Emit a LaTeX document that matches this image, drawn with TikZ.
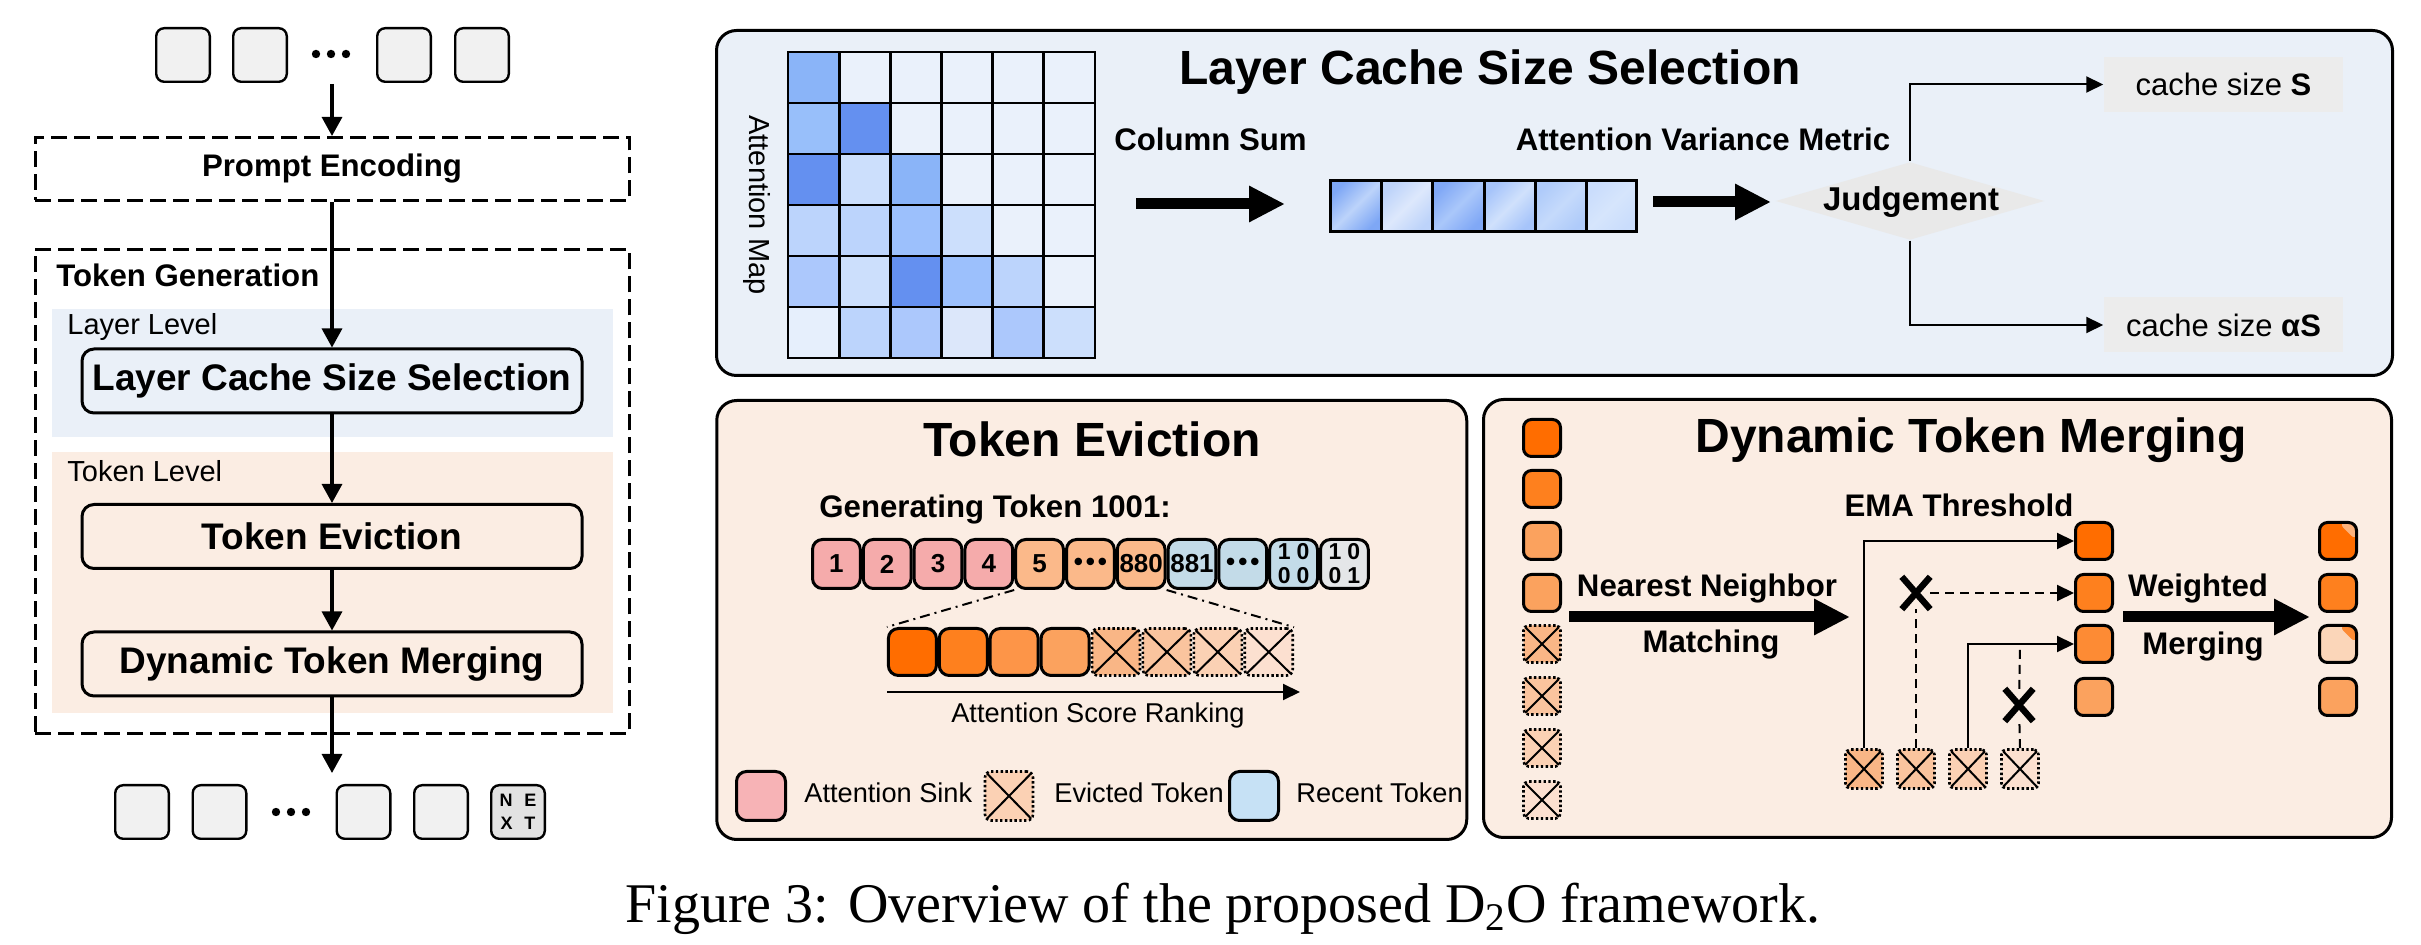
\documentclass[tikz,border=0pt]{standalone}
\usepackage{fontspec}
\setmainfont{Liberation Sans}
\newfontfamily\capfont{Liberation Serif}
\usetikzlibrary{arrows.meta,shapes.geometric,shapes.misc}

\definecolor{tokgray}{HTML}{F1F1F1}
\definecolor{nextgray}{HTML}{E2E2E2}
\definecolor{bluebg}{HTML}{EAF0F8}
\definecolor{peachbg}{HTML}{FBEDE3}
\definecolor{judgegray}{HTML}{E9E9E9}
\definecolor{boxgray}{HTML}{ECECEC}
\definecolor{amlight}{HTML}{EAF1FB}
\definecolor{amA}{HTML}{8AB4F8}
\definecolor{amB}{HTML}{98BFFA}
\definecolor{amC}{HTML}{6490F0}
\definecolor{amD}{HTML}{CCDFFC}
\definecolor{amE}{HTML}{BCD4FC}
\definecolor{amF}{HTML}{9CC0FC}
\definecolor{amG}{HTML}{ACC8FC}
\definecolor{amH}{HTML}{E6EFFC}
\definecolor{amI}{HTML}{DCE7FA}
\definecolor{vcA}{HTML}{7EA7F5}
\definecolor{vsA}{HTML}{BCD3FA}
\definecolor{vcB}{HTML}{BDD3FA}
\definecolor{vsB}{HTML}{DDE8FC}
\definecolor{vcC}{HTML}{80A8F6}
\definecolor{vsC}{HTML}{AAC7FA}
\definecolor{vcD}{HTML}{A6C4FA}
\definecolor{vsD}{HTML}{D0E1FC}
\definecolor{vcE}{HTML}{AFCBFA}
\definecolor{vsE}{HTML}{C5DAFB}
\definecolor{vcF}{HTML}{CADDFC}
\definecolor{vsF}{HTML}{D6E5FC}
\definecolor{sinkpink}{HTML}{F5ABAB}
\definecolor{legpink}{HTML}{F7B3B6}
\definecolor{midorange}{HTML}{FBB98A}
\definecolor{recentblue}{HTML}{C3DBE8}
\definecolor{legblue}{HTML}{C6E1F5}
\definecolor{lastgray}{HTML}{E4E6E8}
\definecolor{orA}{HTML}{FF6D00}
\definecolor{orB}{HTML}{FE801E}
\definecolor{orC}{HTML}{FD9548}
\definecolor{orK}{HTML}{FD8B34}
\definecolor{orD}{HTML}{FBA25E}
\definecolor{evA}{HTML}{F9B686}
\definecolor{evB}{HTML}{FAC49E}
\definecolor{evC}{HTML}{FBD1B4}
\definecolor{evD}{HTML}{FCE0D0}
\definecolor{tipA}{HTML}{FCB27C}
\definecolor{mergeC}{HTML}{FBD6B9}

\tikzset{every picture/.style={line width=0.75pt}}
\tikzset{
  tok/.style={draw, line width=1.2pt, rounded corners=4pt, fill=tokgray, minimum width=26.8pt, minimum height=26.8pt, inner sep=0},
  dashbox/.style={draw, line width=1.5pt, dash pattern=on 8pt off 3.5pt, inner sep=0},
  stage/.style={draw, line width=1.5pt, rounded corners=6pt, minimum width=250pt, minimum height=32pt, inner sep=0, font=\bfseries\fontsize{18.5}{22}\selectfont},
  lbl/.style={font=\bfseries\fontsize{15.6}{19}\selectfont},
  lvl/.style={font=\fontsize{14.5}{17}\selectfont},
  note/.style={font=\fontsize{13.6}{16}\selectfont},
  ttl/.style={font=\bfseries\fontsize{24}{28}\selectfont},
  flow/.style={line width=1.6pt, -{Triangle[length=9.5pt,width=10pt]}},
  thinarrow/.style={line width=1pt, -{Triangle[length=8.5pt,width=8pt]}},
  bigarrow/.style={line width=5.5pt, -{Triangle[length=18pt,width=17pt]}},
  panel/.style={draw, line width=1.5pt, rounded corners=10pt, inner sep=0},
  cell/.style={draw, line width=1.5pt, rounded corners=5pt, minimum width=23.9pt, minimum height=24.5pt, inner sep=0, font=\bfseries\fontsize{13}{13}\selectfont},
  bits/.style={cell, align=center, font=\bfseries\fontsize{11.5}{12}\selectfont},
  rank/.style={draw, line width=1.5pt, rounded corners=5pt, minimum width=24pt, minimum height=23.5pt, inner sep=0},
  gone/.style={draw, line width=1.3pt, dash pattern=on 1.2pt off 1.2pt, rounded corners=3pt, minimum width=24pt, minimum height=23.5pt, inner sep=0,
    path picture={\draw[line width=1pt, solid] (path picture bounding box.north west) -- (path picture bounding box.south east) (path picture bounding box.south west) -- (path picture bounding box.north east);}},
  mtok/.style={draw, line width=1.5pt, rounded corners=4pt, minimum width=18.5pt, minimum height=18.5pt, inner sep=0},
  mgone/.style={gone, rounded corners=2.5pt, minimum width=18.5pt, minimum height=18.5pt},
  tipped/.style={path picture={\fill[#1] (path picture bounding box.north east) -- (path picture bounding box.north) -- (path picture bounding box.east) -- cycle;}},
  cutmark/.style={cross out, draw, line width=3.2pt, minimum width=11pt, minimum height=13pt, inner sep=0},
  cutline/.style={line width=1pt, dash pattern=on 4.5pt off 3pt},
  zoomline/.style={line width=1pt, dash pattern=on 5pt off 2.5pt on 1pt off 2.5pt},
  decide/.style={diamond, fill=judgegray, aspect=3.45, minimum width=134.5pt, minimum height=39pt, inner sep=0},
  cachebox/.style={fill=boxgray, minimum width=119.5pt, minimum height=27.5pt, inner sep=0, font=\fontsize{15.5}{18}\selectfont},
}

\begin{document}
\begin{tikzpicture}[x=0.5pt,y=0.5pt,yscale=-1,xscale=1]
\useasboundingbox (0,0) rectangle (2421,945);

%Shape: Rectangle [layer level band]
\fill[bluebg] (52,309) rectangle (613,437);
%Shape: Rectangle [token level band]
\fill[peachbg] (52,452) rectangle (613,713);
%Shape: Dashed Rectangle
\node[dashbox, minimum width=297pt, minimum height=242pt] (tokgen) at (332,491.5) {};
\node[dashbox, minimum width=297pt, minimum height=31.5pt, lbl] (prompt) at (332,169) {Prompt Encoding};

% Text Node
\node[lbl, anchor=base west] (tokgentxt) at (49,287) {Token Generation};
\node[lvl, anchor=base west] (laylvl) at (60,335) {Layer Level};
\node[lvl, anchor=base west] (toklvl) at (60,482) {Token Level};

%Shape: Rounded Rect
\node[stage, fill=bluebg] (lcss) at (332,381) {Layer Cache Size Selection};
\node[stage, fill=peachbg] (tevict) at (332,536.5) {Token Eviction};
\node[stage, fill=peachbg] (tmerge) at (332,664) {Dynamic Token Merging};

%Shape: input tokens
\node[tok] (in1) at (183,55) {};
\node[tok] (in2) at (260,55) {};
\node[tok] (in3) at (404,55) {};
\node[tok] (in4) at (482,55) {};
\fill (316,54) circle (2.1pt) (331,54) circle (2.1pt) (346,54) circle (2.1pt);

%Shape: output tokens
\node[tok] (out1) at (142,812) {};
\node[tok] (out2) at (219.5,812) {};
\node[tok] (out3) at (363.5,812) {};
\node[tok] (out4) at (441,812) {};
\node[tok, fill=nextgray, align=center, font=\bfseries\fontsize{9}{11.5}\selectfont] (nexttok) at (518,812) {N\hspace{6pt}E\\X\hspace{6pt}T};
\fill (276,812) circle (2.1pt) (291,812) circle (2.1pt) (306,812) circle (2.1pt);

%Straight Lines
\coordinate (intop) at (332,84);
\coordinate (outtip) at (332,773);
\draw[flow] (intop) -- (prompt.north);
\draw[flow] (prompt.south) -- (lcss.north);
\draw[flow] (lcss.south) -- (tevict.north);
\draw[flow] (tevict.south) -- (tmerge.north);
\draw[flow] (tmerge.south) -- (outtip);

%Shape: Panels
\node[panel, fill=bluebg, minimum width=838pt, minimum height=172.5pt] (lcsspanel) at (1554.5,203) {};
\node[panel, fill=peachbg, minimum width=375pt, minimum height=219.5pt] (tepanel) at (1091.75,620) {};
\node[panel, fill=peachbg, minimum width=454pt, minimum height=219pt] (dtmpanel) at (1937.5,618.5) {};

% ---------------- Layer Cache Size Selection
\node[ttl, anchor=base] (lcsstitle) at (1490,85) {Layer Cache Size Selection};

%Shape: Grid [attention map]
\fill[amlight] (788,52) rectangle (1095,358);
\fill[amA] (788,52) rectangle (839.2,103);
\fill[amB] (788,103) rectangle (839.2,154);
\fill[amC] (839.2,103) rectangle (890.3,154);
\fill[amC] (788,154) rectangle (839.2,205);
\fill[amD] (839.2,154) rectangle (890.3,205);
\fill[amA] (890.3,154) rectangle (941.5,205);
\fill[amE] (788,205) rectangle (839.2,256);
\fill[amE] (839.2,205) rectangle (890.3,256);
\fill[amF] (890.3,205) rectangle (941.5,256);
\fill[amD] (941.5,205) rectangle (992.7,256);
\fill[amG] (788,256) rectangle (839.2,307);
\fill[amD] (839.2,256) rectangle (890.3,307);
\fill[amC] (890.3,256) rectangle (941.5,307);
\fill[amF] (941.5,256) rectangle (992.7,307);
\fill[amE] (992.7,256) rectangle (1043.8,307);
\fill[amH] (788,307) rectangle (839.2,358);
\fill[amE] (839.2,307) rectangle (890.3,358);
\fill[amG] (890.3,307) rectangle (941.5,358);
\fill[amI] (941.5,307) rectangle (992.7,358);
\fill[amG] (992.7,307) rectangle (1043.8,358);
\fill[amD] (1043.8,307) rectangle (1095,358);
\draw[line width=1.4pt] (788,52) rectangle (1095,358)
  (839.2,52) -- (839.2,358) (890.3,52) -- (890.3,358) (941.5,52) -- (941.5,358)
  (992.7,52) -- (992.7,358) (1043.8,52) -- (1043.8,358)
  (788,103) -- (1095,103) (788,154) -- (1095,154) (788,205) -- (1095,205)
  (788,256) -- (1095,256) (788,307) -- (1095,307);
\node[lvl, rotate=-90] (amaplbl) at (757,205) {Attention Map};

%Shape: column-sum vector
\shade[top color=vcA, bottom color=vcA, middle color=vsA, shading angle=45] (1330,181) rectangle (1381,232);
\shade[top color=vcB, bottom color=vcB, middle color=vsB, shading angle=45] (1381,181) rectangle (1432,232);
\shade[top color=vcC, bottom color=vcC, middle color=vsC, shading angle=45] (1432,181) rectangle (1484,232);
\shade[top color=vcD, bottom color=vcD, middle color=vsD, shading angle=45] (1484,181) rectangle (1535,232);
\shade[top color=vcE, bottom color=vcE, middle color=vsE, shading angle=45] (1535,181) rectangle (1586,232);
\shade[top color=vcF, bottom color=vcF, middle color=vsF, shading angle=45] (1586,181) rectangle (1636,232);
\draw[line width=1.5pt] (1330,181) rectangle (1636,232)
  (1381,181) -- (1381,232) (1432,181) -- (1432,232) (1484,181) -- (1484,232)
  (1535,181) -- (1535,232) (1586,181) -- (1586,232);

% Text Node
\node[lbl, anchor=base] (colsum) at (1210.5,151) {Column Sum};
\node[lbl, anchor=base] (avm) at (1703,151) {Attention Variance Metric};

%Block Arrows
\coordinate (csA) at (1136,204);
\coordinate (csB) at (1285,204);
\coordinate (avA) at (1653,202);
\coordinate (avB) at (1771,202);
\draw[bigarrow] (csA) -- (csB);
\draw[bigarrow] (avA) -- (avB);

%Shape: Diamond
\node[decide] (judge) at (1910,201) {};
\node[font=\bfseries\fontsize{16.5}{19}\selectfont, anchor=base] (judgetxt) at (1911,211) {Judgement};
\node[cachebox] (cacheS) at (2223.5,84.5) {cache size \textbf{S}};
\node[cachebox] (cacheaS) at (2223.5,325) {cache size \textbf{αS}};
\draw[thinarrow] (judge.north) |- (cacheS.west);
\draw[thinarrow] (judge.south) |- (cacheaS.west);

% ---------------- Token Eviction
\node[ttl, anchor=base] (tetitle) at (1092,457) {Token Eviction};
\node[lbl, anchor=base west] (gentxt) at (812,518) {Generating Token 1001:};

\node[cell, fill=sinkpink] (tk1) at (836.4,564) {1};
\node[cell, fill=sinkpink] (tk2) at (887.2,564) {2};
\node[cell, fill=sinkpink] (tk3) at (938,564) {3};
\node[cell, fill=sinkpink] (tk4) at (988.8,564) {4};
\node[cell, fill=midorange] (tk5) at (1039.6,564) {5};
\node[cell, fill=midorange] (tk6) at (1090.4,564) {•\hspace{1.5pt}•\hspace{1.5pt}•};
\node[cell, fill=midorange] (tk7) at (1141.2,564) {880};
\node[cell, fill=recentblue] (tk8) at (1192,564) {881};
\node[cell, fill=recentblue] (tk9) at (1242.8,564) {•\hspace{1.5pt}•\hspace{1.5pt}•};
\node[bits, fill=recentblue] (tk10) at (1293.6,564) {1\hspace{3pt}0\\0\hspace{3pt}0};
\node[bits, fill=lastgray] (tk11) at (1344.4,564) {1\hspace{3pt}0\\0\hspace{3pt}1};

\node[rank, fill=orA] (rk1) at (912.4,652) {};
\node[rank, fill=orB] (rk2) at (963.3,652) {};
\node[rank, fill=orC] (rk3) at (1014.2,652) {};
\node[rank, fill=orD] (rk4) at (1065.1,652) {};
\node[gone, fill=evA] (rk5) at (1116,652) {};
\node[gone, fill=evB] (rk6) at (1166.9,652) {};
\node[gone, fill=evC] (rk7) at (1217.8,652) {};
\node[gone, fill=evD] (rk8) at (1268.7,652) {};

%Straight Lines
\draw[zoomline] (tk5.south west) -- (rk1.north west);
\draw[zoomline] (tk7.south east) -- (rk8.north east);
\coordinate (rankA) at (887,692);
\coordinate (rankB) at (1300,692);
\draw[thinarrow] (rankA) -- (rankB);
\node[note, anchor=base] (ranktxt) at (1098,723) {Attention Score Ranking};

% legend
\node[cell, fill=legpink, minimum width=24.5pt] (legsink) at (761,796) {};
\node[note, anchor=base west] (legsinktxt) at (797,803) {Attention Sink};
\node[gone, fill=evC, minimum height=24.5pt] (legevict) at (1009,796) {};
\node[note, anchor=base west] (legevicttxt) at (1047,803) {Evicted Token};
\node[cell, fill=legblue, minimum width=24.5pt] (legrecent) at (1254,796) {};
\node[note, anchor=base west] (legrecenttxt) at (1289,803) {Recent Token};

% ---------------- Dynamic Token Merging
\node[ttl, anchor=base] (dtmtitle) at (1971,453) {Dynamic Token Merging};

\node[mtok, fill=orA] (m1) at (1542,438) {};
\node[mtok, fill=orB] (m2) at (1542,489) {};
\node[mtok, fill=orD] (m3) at (1542,541) {};
\node[mtok, fill=orD] (m4) at (1542,593) {};
\node[mgone, fill=evA] (m5) at (1542,644) {};
\node[mgone, fill=evB] (m6) at (1542,696) {};
\node[mgone, fill=evC] (m7) at (1542,748) {};
\node[mgone, fill=evD] (m8) at (1542,800) {};

\node[mtok, fill=orA] (k1) at (2094,541) {};
\node[mtok, fill=orB] (k2) at (2094,593) {};
\node[mtok, fill=orK] (k3) at (2094,644) {};
\node[mtok, fill=orD] (k4) at (2094,697) {};

\node[mtok, fill=orA, tipped=tipA] (w1) at (2338,541) {};
\node[mtok, fill=orB] (w2) at (2338,593) {};
\node[mtok, fill=mergeC, tipped=orK] (w3) at (2338,644) {};
\node[mtok, fill=orD] (w4) at (2338,697) {};

\node[mgone, fill=evA, minimum height=19.5pt] (e1) at (1864,769) {};
\node[mgone, fill=evB, minimum height=19.5pt] (e2) at (1916,769) {};
\node[mgone, fill=evC, minimum height=19.5pt] (e3) at (1968,769) {};
\node[mgone, fill=evD, minimum height=19.5pt] (e4) at (2020,769) {};

% Text Node
\node[lbl, anchor=base] (ematxt) at (1959,517) {EMA Threshold};
\node[lbl, anchor=base] (nntxt) at (1707,597) {Nearest Neighbor};
\node[lbl, anchor=base] (matchtxt) at (1711,653) {Matching};
\node[lbl, anchor=base] (wtxt) at (2198,597) {Weighted};
\node[lbl, anchor=base] (mergetxt) at (2203,655) {Merging};

%Block Arrows
\coordinate (nnA) at (1569,617);
\coordinate (nnB) at (1850,617);
\coordinate (wmA) at (2123,617);
\coordinate (wmB) at (2310,617);
\draw[bigarrow] (nnA) -- (nnB);
\draw[bigarrow] (wmA) -- (wmB);

%Connectors
\node[cutmark] (cut1) at (1916,593) {};
\node[cutmark] (cut2) at (2019,705) {};
\draw[thinarrow] (e1.north) |- (k1.west);
\draw[cutline] (e2.north) -- (cut1);
\draw[cutline, -{Triangle[length=8.5pt,width=8pt]}] (cut1) -- (k2.west);
\draw[thinarrow] (e3.north) |- (k3.west);
\draw[cutline] (e4.north) -- (cut2) -- (e4.north |- k3.west);

% Caption
\node[font=\capfont\fontsize{28}{32}\selectfont, anchor=base] (caption) at (1223,922) {Figure 3: Overview of the proposed D\textsubscript{2}O framework.};
\end{tikzpicture}
\end{document}
